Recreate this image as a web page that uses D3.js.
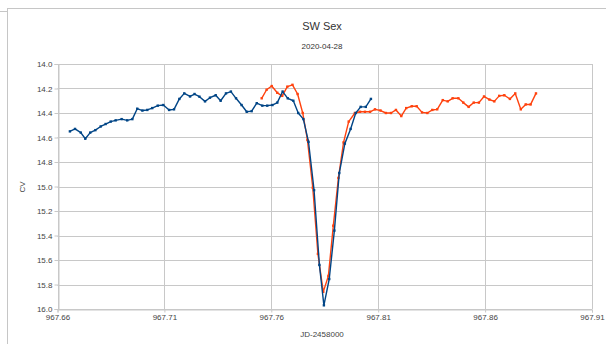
<!DOCTYPE html>
<html><head><meta charset="utf-8">
<script src="https://cdn.jsdelivr.net/npm/d3@7"></script>
<style>
html,body{margin:0;padding:0;background:#fff;}
svg{display:block;font-family:"Liberation Sans",Arial,sans-serif;}
</style></head>
<body>
<script>
const title = "SW Sex";
const subtitle = "2020-04-28";
const xLabel = "JD-2458000";
const yLabel = "CV";
const xTicks = [967.66, 967.71, 967.76, 967.81, 967.86, 967.91];
const yTicks = [14.0, 14.2, 14.4, 14.6, 14.8, 15.0, 15.2, 15.4, 15.6, 15.8, 16.0];

const blueJD = [967.6658,967.6682,967.6709,967.6730,967.6753,967.6777,967.6802,967.6825,967.6849,967.6872,
967.6900,967.6926,967.6950,967.6973,967.6997,967.7020,967.7043,967.7069,967.7095,967.7122,
967.7145,967.7170,967.7193,967.7220,967.7241,967.7264,967.7290,967.7313,967.7340,967.7363,
967.7388,967.7411,967.7435,967.7461,967.7485,967.7508,967.7532,967.7558,967.7581,967.7605,
967.7628,967.7653,967.7677,967.7703,967.7726,967.7750,967.7774,967.7800,967.7825,967.7846,
967.7871,967.7895,967.7918,967.7944,967.7971,967.7995,967.8018,967.8042,967.8066];
const blueCV = [14.55,14.53,14.56,14.61,14.56,14.54,14.51,14.49,14.47,14.46,
14.45,14.46,14.45,14.365,14.38,14.375,14.36,14.34,14.335,14.375,
14.37,14.285,14.24,14.265,14.245,14.267,14.305,14.275,14.255,14.30,
14.24,14.225,14.28,14.335,14.39,14.385,14.32,14.34,14.34,14.335,
14.315,14.225,14.28,14.30,14.40,14.45,14.635,15.03,15.64,15.97,
15.755,15.36,14.89,14.65,14.53,14.40,14.35,14.35,14.285];

const orangeJD = [967.7555,967.7578,967.7602,967.7628,967.7651,967.7675,967.7699,967.7723,967.7747,967.7769,
967.7794,967.7818,967.7843,967.7867,967.7890,967.7914,967.7938,967.7962,967.7991,967.8015,
967.8038,967.8062,967.8085,967.8111,967.8136,967.8160,967.8183,967.8208,967.8231,967.8257,
967.8280,967.8305,967.8330,967.8353,967.8376,967.8402,967.8425,967.8448,967.8475,967.8498,
967.8523,967.8547,967.8571,967.8595,967.8620,967.8643,967.8666,967.8690,967.8716,967.8741,
967.8767,967.8790,967.8813,967.8838];
const orangeCV = [14.28,14.21,14.18,14.235,14.26,14.185,14.17,14.245,14.40,14.62,
15.01,15.55,15.86,15.73,15.32,14.93,14.64,14.47,14.40,14.39,
14.39,14.39,14.37,14.38,14.40,14.40,14.375,14.425,14.36,14.345,
14.345,14.395,14.40,14.375,14.37,14.295,14.305,14.28,14.28,14.315,
14.35,14.315,14.315,14.265,14.29,14.305,14.26,14.255,14.285,14.24,
14.37,14.33,14.33,14.24];

const W = 606, H = 344;
const svg = d3.select("body").append("svg").attr("width", W).attr("height", H);

// chart frame
svg.append("line").attr("x1",7.5).attr("x2",7.5).attr("y1",8).attr("y2",H).attr("stroke","#c6c6c6");
svg.append("line").attr("x1",7.5).attr("x2",W).attr("y1",8.5).attr("y2",8.5).attr("stroke","#c6c6c6");
svg.append("line").attr("x1",0).attr("x2",7).attr("y1",11.5).attr("y2",11.5).attr("stroke","#c6c6c6");

const x = d3.scaleLinear().domain([967.66, 967.91]).range([57.5, 592]);
const y = d3.scaleLinear().domain([14.0, 16.0]).range([64, 309]);

const grid = "#c8c8c8";
// gridlines
svg.append("g").selectAll("line").data(yTicks).join("line")
  .attr("x1", x(967.66)).attr("x2", x(967.91))
  .attr("y1", d => Math.round(y(d)) + 0.5).attr("y2", d => Math.round(y(d)) + 0.5)
  .attr("stroke", grid).attr("stroke-width", 1);
svg.append("g").selectAll("line").data(xTicks).join("line")
  .attr("y1", y(14)).attr("y2", y(16))
  .attr("x1", d => Math.round(x(d)) + 0.5).attr("x2", d => Math.round(x(d)) + 0.5)
  .attr("stroke", grid).attr("stroke-width", 1);

// axes
const yAxis = d3.axisLeft(y).tickValues(yTicks).tickFormat(d3.format(".1f")).tickSize(4).tickPadding(2);
const gy = svg.append("g").attr("transform", `translate(${Math.round(x(967.66))+0.5},0)`).call(yAxis);
const xAxis = d3.axisBottom(x).tickValues(xTicks).tickFormat(d3.format(".2f")).tickSize(3).tickPadding(2);
const gx = svg.append("g").attr("transform", `translate(0,${Math.round(y(16))+0.5})`).call(xAxis);
[gx, gy].forEach(g => {
  g.select(".domain").attr("stroke", grid);
  g.selectAll(".tick line").attr("stroke", grid);
  g.selectAll(".tick text").attr("fill", "#444").style("font-size", "8px")
   .style("font-family", '"Liberation Sans",Arial,sans-serif');
});

// titles
svg.append("text").attr("x", 322).attr("y", 30).attr("text-anchor","middle")
  .style("font-size","11px").attr("fill","#333").text(title);
svg.append("text").attr("x", 322).attr("y", 49).attr("text-anchor","middle")
  .style("font-size","8px").attr("fill","#333").text(subtitle);
svg.append("text").attr("x", 322).attr("y", 337).attr("text-anchor","middle")
  .style("font-size","8px").attr("fill","#444").text(xLabel);
svg.append("text").attr("transform","translate(25,187) rotate(-90)").attr("text-anchor","middle")
  .style("font-size","8px").attr("fill","#444").text(yLabel);

function drawSeries(jd, cv, color) {
  const pts = jd.map((d, i) => [d, cv[i]]);
  const line = d3.line().x(d => x(d[0])).y(d => y(d[1]));
  svg.append("path").datum(pts).attr("d", line).attr("fill","none")
    .attr("stroke", color).attr("stroke-width", 1.4).attr("stroke-linejoin","round");
  svg.append("g").selectAll("rect").data(pts).join("rect")
    .attr("x", d => x(d[0]) - 1.2).attr("y", d => y(d[1]) - 1.2)
    .attr("width", 2.4).attr("height", 2.4).attr("fill", color);
}
drawSeries(orangeJD, orangeCV, "#ff420e");
drawSeries(blueJD, blueCV, "#004586");
</script>
</body></html>
